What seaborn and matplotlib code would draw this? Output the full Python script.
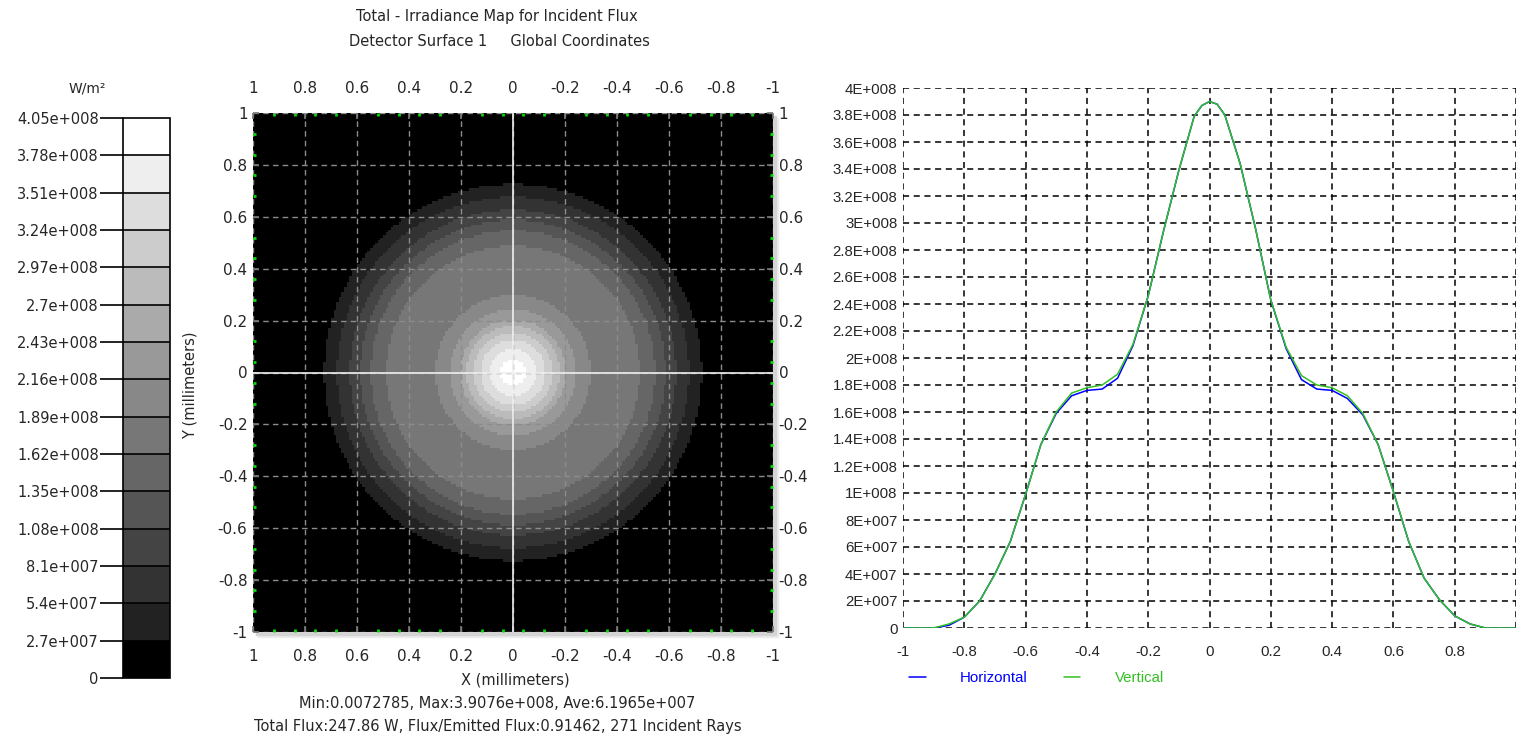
# Irradiance map + cross-section profile

import numpy as np
import pandas as pd
import seaborn as sns
import matplotlib.pyplot as plt
from matplotlib.colors import ListedColormap, BoundaryNorm
from matplotlib.patches import Rectangle


# profile through the detector centre (x in mm, values in 1e8 W/m^2)
pos_mm = [-1.0, -0.95, -0.9, -0.85, -0.8, -0.75, -0.7, -0.65, -0.6, -0.55, -0.5,
          -0.45, -0.4, -0.35, -0.3, -0.25, -0.2, -0.15, -0.1, -0.05, -0.025, 0.0,
          0.025, 0.05, 0.1, 0.15, 0.2, 0.25, 0.3, 0.35, 0.4, 0.45, 0.5, 0.55, 0.6,
          0.65, 0.7, 0.75, 0.8, 0.85, 0.9, 0.95, 1.0]
horizontal = [0, 0, 0.0, 0.02, 0.08, 0.20, 0.40, 0.64, 0.99, 1.36, 1.59,
              1.72, 1.76, 1.77, 1.85, 2.09, 2.46, 2.94, 3.39, 3.79, 3.87, 3.90,
              3.88, 3.80, 3.44, 2.96, 2.43, 2.07, 1.84, 1.77, 1.76, 1.70, 1.58, 1.36, 1.01,
              0.64, 0.37, 0.21, 0.09, 0.03, 0.0, 0, 0]
vertical = [0, 0, 0.0, 0.03, 0.08, 0.20, 0.40, 0.64, 0.99, 1.36, 1.60,
            1.74, 1.78, 1.80, 1.88, 2.10, 2.46, 2.94, 3.39, 3.79, 3.87, 3.90,
            3.88, 3.80, 3.44, 2.96, 2.43, 2.08, 1.87, 1.80, 1.78, 1.72, 1.59, 1.36, 1.01,
            0.64, 0.37, 0.21, 0.09, 0.03, 0.0, 0, 0]

# outer radius (mm) of each grey level 1..14 in the map
ring_radius = [0.73, 0.68, 0.63, 0.59, 0.55, 0.49, 0.30, 0.245, 0.205, 0.18, 0.155, 0.125, 0.09, 0.05]

level_step = 2.7e7
n_levels = 15
grays = ['#000000', '#222222', '#333333', '#444444', '#555555', '#666666', '#777777', '#888888',
         '#999999', '#aaaaaa', '#bbbbbb', '#cccccc', '#dddddd', '#eeeeee', '#ffffff']

map_ticks = [1, 0.8, 0.6, 0.4, 0.2, 0, -0.2, -0.4, -0.6, -0.8, -1]
prof_xticks = [-1, -0.8, -0.6, -0.4, -0.2, 0, 0.2, 0.4, 0.6, 0.8, 1]
prof_xlabels = ['-1', '-0.8', '-0.6', '-0.4', '-0.2', '0', '0.2', '0.4', '0.6', '0.8', '']

title_lines = ['Total - Irradiance Map for Incident Flux',
               'Detector Surface 1     Global Coordinates']
info_lines = ['Min:0.0072785, Max:3.9076e+008, Ave:6.1965e+007',
              'Total Flux:247.86 W, Flux/Emitted Flux:0.91462, 271 Incident Rays']

blue = '#0000ff'
green = '#33c023'


def sci(v, e='e'):
    if v == 0:
        return '0'
    p = int(np.floor(np.log10(v) + 1e-9))
    m = v / 10 ** p
    return f'{m:.3g}{e}+{p:03d}'


sns.set_theme(style='white')
plt.rcParams['font.family'] = ['DejaVu Sans']
plt.rcParams['font.size'] = 10.5
narrow = ['Liberation Sans Narrow', 'DejaVu Sans Condensed', 'Liberation Sans']

W, H = 1524, 740
fig = plt.figure(figsize=(W / 100, H / 100), dpi=100)


def box(x0, y0, x1, y1):
    return [x0 / W, 1 - y1 / H, (x1 - x0) / W, (y1 - y0) / H]


# ---- irradiance map
ax = fig.add_axes(box(253, 113, 773, 632))
# soft drop shadow right / below the map
for off, col in [(5, '#ececec'), (3, '#d4d4d4')]:
    fig.patches.append(Rectangle(((253 + off) / W, 1 - (632 + off) / H), 520 / W, 519 / H,
                                 transform=fig.transFigure, color=col, zorder=-5))
g = np.linspace(-1, 1, 200)
gx, gy = np.meshgrid(g, g)
r = np.hypot(gx, gy)
level = np.zeros_like(r)
for rr in ring_radius:
    level += (r < rr)
bounds = [k * level_step for k in range(n_levels + 1)]
cmap = ListedColormap(grays)
norm = BoundaryNorm(bounds, n_levels)
im = ax.imshow(level * level_step + level_step / 2, cmap=cmap, norm=norm, origin='lower',
               extent=(-1, 1, -1, 1), interpolation='nearest', aspect='auto')
ax.set_xlim(1, -1)
ax.set_ylim(-1, 1)
ax.set_xticks(map_ticks, labels=[f'{t:g}' for t in map_ticks])
ax.set_yticks(map_ticks, labels=[f'{t:g}' for t in map_ticks])
ax.set_xticks(np.linspace(-1, 1, 26), minor=True)
ax.set_yticks(np.linspace(-1, 1, 26), minor=True)
ax.grid(True, which='major', color='#8c8c8c', linestyle=(0, (4, 3)), linewidth=1)
ax.axvline(0, color='#f0f0f0', lw=1.2)
ax.axhline(0, color='#f0f0f0', lw=1.2)
ax.tick_params(axis='x', which='major', direction='in', length=4, color='#777777',
               top=True, bottom=True, labeltop=True, labelbottom=True, pad=12)
ax.tick_params(axis='y', which='major', direction='in', length=4, color='#777777',
               left=True, right=True, labelleft=True, labelright=True, pad=4)
ax.tick_params(which='minor', direction='in', length=2, width=2, color='#00dd00',
               top=True, bottom=True, left=True, right=True)
for s in ax.spines.values():
    s.set_visible(False)

# ---- colour bar
cax = fig.add_axes(box(123, 118, 170, 678))
cb = fig.colorbar(im, cax=cax, ticks=bounds, drawedges=True)
cb.outline.set_edgecolor('black')
cb.outline.set_linewidth(1.2)
cb.dividers.set_color('black')
cb.dividers.set_linewidth(1.2)
cax.yaxis.set_ticks_position('left')
cax.set_yticklabels([sci(b) for b in bounds])
cax.tick_params(axis='y', length=16.5, width=1.2, color='black', pad=1, labelsize=10.5)
fig.text(87 / W, 1 - 88 / H, 'W/m²', ha='center', va='center', fontsize=10)

# ---- profile
ax2 = fig.add_axes(box(903, 88, 1516, 628))
n = len(pos_mm)
prof = pd.DataFrame({
    'x': pos_mm + pos_mm,
    'value': [v * 1e8 for v in horizontal] + [v * 1e8 for v in vertical],
    'series': ['Horizontal'] * n + ['Vertical'] * n,
})
sns.lineplot(data=prof, x='x', y='value', hue='series',
             palette={'Horizontal': blue, 'Vertical': green}, linewidth=1.1, ax=ax2)
ax2.set_xlim(-1, 1)
ax2.set_ylim(0, 4e8)
yt = [k * 2e7 for k in range(21)]
ax2.set_yticks(yt, labels=[sci(v, 'E') for v in yt], family=narrow, stretch='condensed', fontsize=10.8)
ax2.set_xticks(prof_xticks, labels=prof_xlabels, family=narrow, stretch='condensed', fontsize=10.8)
ax2.tick_params(length=0)
ax2.tick_params(axis='y', pad=4)
ax2.tick_params(axis='x', pad=12)
ax2.grid(True, color='black', linestyle=(0, (4, 3)), linewidth=1.1)
ax2.set_xlabel('')
ax2.set_ylabel('')
for s in ax2.spines.values():
    s.set_visible(False)
sns.move_legend(ax2, 'upper left', bbox_to_anchor=(-0.012, -0.055), ncol=2, frameon=False,
                title=None, labelcolor='linecolor', handlelength=1.1, handletextpad=2.3,
                columnspacing=2.4, prop={'family': narrow, 'stretch': 'condensed', 'size': 10.8})

# ---- texts
fig.text(497 / W, 1 - 17 / H, title_lines[0], ha='center', va='center')
fig.text(499 / W, 1 - 41 / H, title_lines[1], ha='center', va='center')
fig.text(190 / W, 1 - 385 / H, 'Y (millimeters)', rotation=90, ha='center', va='center')
fig.text(515 / W, 1 - 680 / H, 'X (millimeters)', ha='center', va='center')
fig.text(497 / W, 1 - 703 / H, info_lines[0], ha='center', va='center')
fig.text(498 / W, 1 - 727 / H, info_lines[1], ha='center', va='center')

fig.savefig('out.png', dpi=100)
